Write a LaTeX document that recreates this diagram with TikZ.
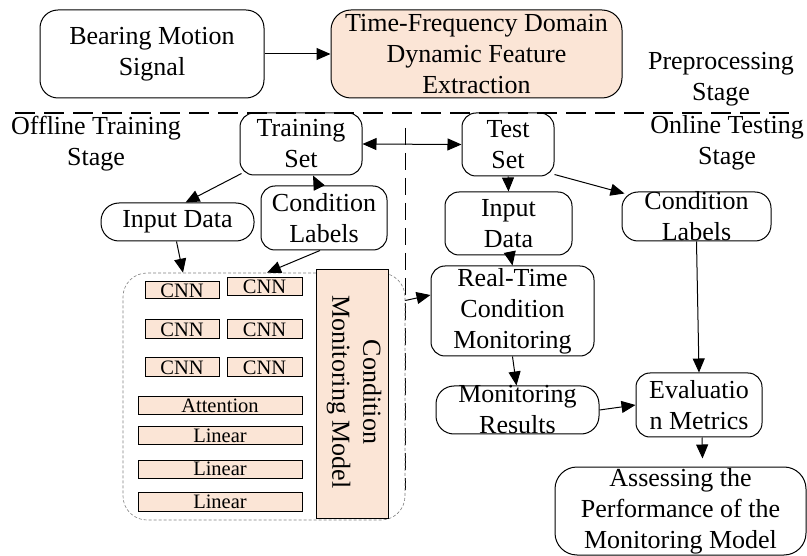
\documentclass[tikz,border=0pt]{standalone}
\usepackage{fontspec}
\setmainfont{Liberation Serif}
\usetikzlibrary{arrows.meta}
\definecolor{peach}{HTML}{FBE5D6}
\begin{document}
\begin{tikzpicture}[x=1pt,y=-1pt,
  txt/.style={align=center, inner sep=0pt, font=\fontsize{26pt}{31pt}\selectfont},
  small/.style={inner sep=0pt, font=\fontsize{20.5pt}{24pt}\selectfont},
  box/.style={draw, line width=1pt, rounded corners=14pt, inner sep=0pt},
  layer/.style={draw, line width=1pt, fill=peach, inner sep=0pt, small},
  arr/.style={line width=1pt, -{Triangle[length=14pt,width=12pt]}},
  darr/.style={line width=1pt, {Triangle[length=14pt,width=12pt]}-{Triangle[length=14pt,width=12pt]}},
  sep/.style={line width=1.5pt, dash pattern=on 20pt off 9pt},
  vsep/.style={line width=1.5pt, dash pattern=on 17pt off 8pt}
]
\useasboundingbox (0,0) rectangle (807,556);

% separators
\draw[sep] (15,113) -- (790,113);
\draw[vsep] (405.5,128) -- (405.5,490);

% stage labels
\node[txt] (pre) at (721,79) {Preprocessing\\Stage};
\node[txt] (off) at (96,144) {Offline Training\\Stage};
\node[txt] (onl) at (727,143) {Online Testing\\Stage};

% top row
\node[box, minimum width=224pt, minimum height=88pt, rounded corners=18pt,
  label={[txt]center:Bearing Motion\\Signal}] (bms) at (152,54) {};
\node[box, fill=peach, minimum width=291pt, minimum height=88pt, rounded corners=20pt,
  label={[txt]center:Time-Frequency Domain\\Dynamic Feature\\Extraction}] (tfd) at (476.5,54) {};

% datasets
\node[box, minimum width=122pt, minimum height=62pt,
  label={[txt]center:Training\\Set}] (trs) at (301,144) {};
\node[box, minimum width=92pt, minimum height=63pt,
  label={[txt]center:Test\\Set}] (tst) at (508,144.5) {};

% left branch
\node[box, minimum width=153pt, minimum height=38pt, rounded corners=18pt,
  label={[txt]center:Input Data}] (inl) at (177.5,222) {};
\node[box, minimum width=126pt, minimum height=64pt,
  label={[txt]center:Condition\\Labels}] (cll) at (324,218) {};

% model container
\node[draw=gray, dash pattern=on 3pt off 2pt, line width=0.6pt, rounded corners=24pt,
  minimum width=282pt, minimum height=247pt, inner sep=0pt] (dbox) at (264,396.5) {};

\node[layer, minimum width=74pt, minimum height=17pt] (c1) at (182,290.5) {CNN};
\node[layer, minimum width=75pt, minimum height=18pt] (c2) at (264.5,287) {CNN};
\node[layer, minimum width=74pt, minimum height=19pt] (c3) at (182,329.5) {CNN};
\node[layer, minimum width=75pt, minimum height=19pt] (c4) at (264.5,329.5) {CNN};
\node[layer, minimum width=74pt, minimum height=19pt] (c5) at (182,367.5) {CNN};
\node[layer, minimum width=75pt, minimum height=19pt] (c6) at (264.5,367.5) {CNN};
\node[layer, minimum width=164pt, minimum height=18pt] (att) at (220,406) {Attention};
\node[layer, minimum width=164pt, minimum height=18pt] (l1) at (220,436) {Linear};
\node[layer, minimum width=164pt, minimum height=18pt] (l2) at (220,469) {Linear};
\node[layer, minimum width=164pt, minimum height=19pt] (l3) at (220,501.5) {Linear};

\node[draw, line width=1pt, fill=peach, rotate=-90, minimum width=248pt, minimum height=72pt,
  inner sep=0pt] (cmm) at (352,394) {};
\node[txt, rotate=-90] (cmmt) at (354,392) {Condition\\Monitoring Model};

% right branch
\node[box, minimum width=127pt, minimum height=63pt,
  label={[txt]center:Input\\Data}] (inr) at (508.5,223.5) {};
\node[box, minimum width=149pt, minimum height=49pt, rounded corners=16pt,
  label={[txt]center:Condition\\Labels}] (clr) at (696.5,216.5) {};
\node[box, minimum width=163pt, minimum height=90pt,
  label={[txt]center:Real-Time\\Condition\\Monitoring}] (rtc) at (512.5,311) {};
\node[box, minimum width=163pt, minimum height=48pt, rounded corners=18pt,
  label={[txt]center:Monitoring\\Results}] (mr) at (517.5,410) {};
\node[box, minimum width=126pt, minimum height=64pt,
  label={[txt]center:Evaluatio\\n Metrics}] (ev) at (699,405) {};
\node[box, minimum width=251pt, minimum height=88pt, rounded corners=22pt,
  label={[txt]center:Assessing the\\Performance of the\\Monitoring Model}] (asm) at (680.5,511) {};

% connectors
\draw[arr] (bms.east) -- (tfd.west);
\draw[darr] (trs.east) -- (tst.west);
\draw[arr] ([xshift=2pt,yshift=2pt]trs.south west) -- ([xshift=8pt]inl.north);
\draw[arr] ([xshift=-6pt]cll.north) -- ([xshift=12pt]trs.south);
\draw[arr] ([xshift=-1pt]inl.south) -- ([xshift=-81pt]dbox.north);
\draw[arr] ([xshift=-4pt]cll.south) -- ([xshift=3pt]dbox.north);
\draw[arr] (tst.south) -- (inr.north);
\draw[arr] ([yshift=2pt]tst.south east) -- ([xshift=3pt,yshift=-2pt]clr.north west);
\draw[arr] ([xshift=2pt]inr.south) -- ([xshift=0pt]rtc.north);
\draw[arr] ([yshift=96pt]dbox.east) -- ([yshift=16pt]rtc.west);
\draw[arr] (rtc.south) -- ([xshift=-1pt]mr.north);
\draw[arr] (mr.east) -- (ev.west);
\draw[arr] (clr.south) -- (ev.north);
\draw[arr] ([xshift=3pt]ev.south) -- ([xshift=22pt,yshift=8pt]asm.north);
\end{tikzpicture}
\end{document}
